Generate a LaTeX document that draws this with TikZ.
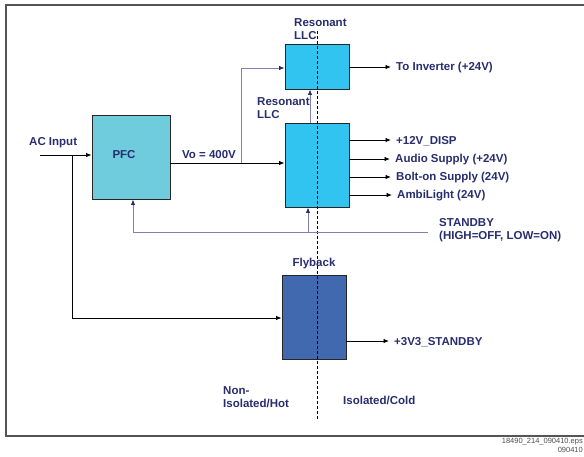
\documentclass[tikz,border=0pt]{standalone}
\usepackage{fontspec}
\setmainfont{Liberation Sans}
\usetikzlibrary{arrows.meta}

\definecolor{navytxt}{RGB}{40,45,110}
\definecolor{slate}{RGB}{125,128,178}
\definecolor{pfcfill}{RGB}{110,204,220}
\definecolor{llcfill}{RGB}{50,196,240}
\definecolor{flyfill}{RGB}{65,105,175}
\definecolor{framegray}{RGB}{85,85,85}

\tikzstyle{block} = [rectangle, draw=black!85, line width=0.9pt, inner sep=0pt]
\tikzstyle{lbl} = [text=navytxt, font=\fontsize{11.5}{13.5}\selectfont\bfseries, inner sep=1pt, align=left]
\tikzstyle{outlbl} = [lbl, anchor=west, inner xsep=5pt]
\tikzstyle{arr} = [-{Latex[length=5.5pt,width=4.5pt]}, line width=0.9pt]
\tikzstyle{feed} = [draw=slate, line width=0.9pt, -{Latex[length=5.5pt,width=4.5pt,color=navytxt]}]

\begin{document}
\begin{tikzpicture}[x=1pt, y=-1pt]
        \useasboundingbox (0,0) rectangle (584,456);
        \draw [framegray, line width=1.2pt] (6,5) rectangle (620,436);

        \node (pfc)  [block, fill=pfcfill, minimum width=78pt, minimum height=84pt] at (131,157) {};
        \node (pfclbl) [lbl] at (124,155) {PFC};
        \node (llca) [block, fill=llcfill, minimum width=64pt, minimum height=45pt] at (317,66.5) {};
        \node (llcb) [block, fill=llcfill, minimum width=64pt, minimum height=84pt] at (317,165) {};
        \node (fly)  [block, fill=flyfill, minimum width=64pt, minimum height=84pt] at (314,317) {};

        \draw [dashed, dash pattern=on 3pt off 2pt, line width=0.8pt] (317,31) -- (317,420);

        \node (acin)  [lbl, anchor=west] at (28,143) {AC Input};
        \node (vo)    [lbl] at (209,155) {Vo = 400V};
        \node (resa)  [lbl, anchor=north west] at (293,17) {Resonant\\LLC};
        \node (resb)  [lbl, anchor=north west] at (256,96) {Resonant\\LLC};
        \node (flylbl) [lbl] at (314,264) {Flyback};
        \node (stby)  [lbl, anchor=north west] at (438,217) {STANDBY\\(HIGH=OFF, LOW=ON)};
        \node (hot)   [lbl, anchor=north west] at (222,385) {Non-\\Isolated/Hot};
        \node (cold)  [lbl, anchor=west] at (342,400) {Isolated/Cold};

        \node (inv)   [outlbl] at (391,68) {To Inverter (+24V)};
        \node (disp)  [outlbl] at (391,141) {+12V\_DISP};
        \node (audio) [outlbl] at (390,160) {Audio Supply (+24V)};
        \node (bolt)  [outlbl] at (391,178) {Bolt-on Supply (24V)};
        \node (ambi)  [outlbl] at (392,196) {AmbiLight (24V)};
        \node (sb3v3) [outlbl] at (389,342) {+3V3\_STANDBY};

        \node (fname) [anchor=north east, align=right, text=black!70, inner sep=0pt,
                font=\fontsize{7.5}{9}\selectfont] at (583,438) {18490\_214\_090410.eps\\090410};

        \coordinate (acstart) at (40,155);
        \coordinate (acbr) at (72,155);
        \coordinate (vobr) at (241,163);
        \coordinate (sbstart) at (428,232);
        \coordinate (sbbr) at (308,232);

        \draw [arr] (acstart) -- (acstart -| pfc.west);
        \draw [arr] (acbr) |- (fly.west |- 0,318);
        \draw [arr] (pfc.east |- vobr) -- (llcb.west |- vobr);
        \draw [feed] (vobr) |- (llca.west |- 0,68);
        \draw [feed] ([xshift=-7pt]llcb.north) -- ([xshift=-7pt]llca.south);

        \draw [arr] (llca.east |- 0,67) -- (inv.west |- 0,67);
        \draw [arr] (llcb.east |- 0,140) -- (disp.west |- 0,140);
        \draw [arr] (llcb.east |- 0,159) -- (audio.west |- 0,159);
        \draw [arr] (llcb.east |- 0,177) -- (bolt.west |- 0,177);
        \draw [arr] (llcb.east |- 0,195) -- (ambi.west |- 0,195);
        \draw [arr] (fly.east |- 0,341) -- (sb3v3.west |- 0,341);

        \draw [feed] (sbstart) -| ([xshift=2pt]pfc.south);
        \draw [feed] (sbbr) -- (sbbr |- llcb.south);
\end{tikzpicture}
\end{document}
